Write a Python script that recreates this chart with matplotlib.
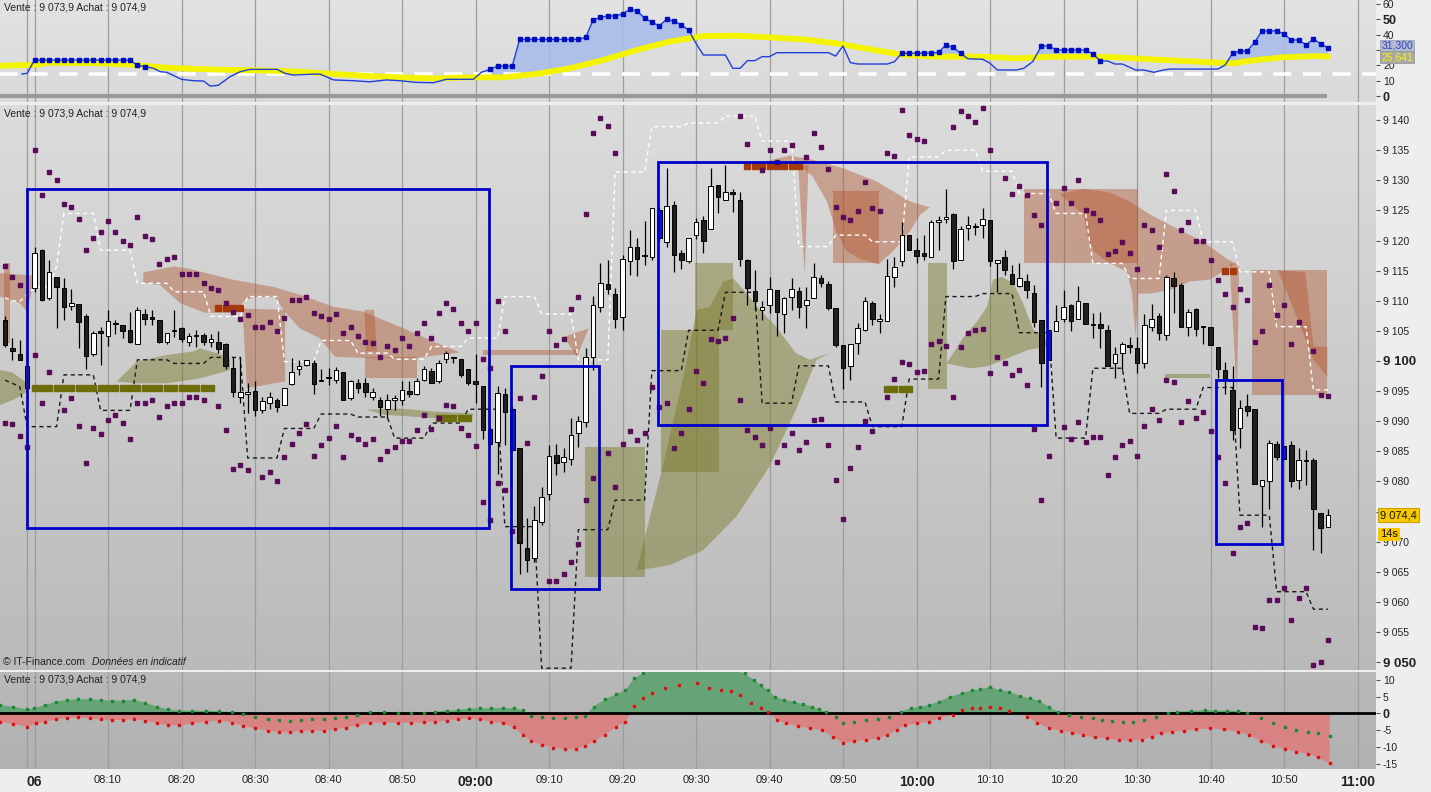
import numpy as np
import matplotlib
matplotlib.use('Agg')
import matplotlib.pyplot as plt
import matplotlib.transforms as mtransforms
from matplotlib.colors import LinearSegmentedColormap
from matplotlib.patches import Polygon, Rectangle

plt.rcParams['font.family'] = ['Liberation Sans', 'DejaVu Sans']

# ---------------- data (minute index, 0 = 08:00) ----------------
minutes = list(range(-4, 177))

opens = [9106.8, 9102.2, 9101.1, 9095.5,
         9112.2, 9118.4, 9110.4, 9113.9, 9112.2, 9109.1, 9109.4, 9107.4, 9101.1, 9105.0,
         9104.2, 9106.1, 9106.0, 9105.2, 9102.8, 9107.8, 9107.3, 9106.8, 9103.2, 9105.0,
         9105.4, 9103.1, 9104.2, 9104.3, 9103.2, 9103.2, 9102.8, 9098.8, 9094.1, 9094.5,
         9095.1, 9091.8, 9093.0, 9093.6, 9092.7, 9096.2, 9098.6, 9099.3, 9099.7, 9096.7,
         9097.1, 9096.9, 9098.2, 9093.8, 9096.3, 9096.3, 9094.1, 9093.5, 9092.0, 9093.6,
         9093.5, 9095.0, 9094.5, 9096.9, 9098.4, 9096.6, 9100.3, 9100.7, 9100.3, 9098.6,
         9096.7, 9095.8, 9088.7, 9086.5, 9094.5, 9092.0, 9085.5, 9069.0, 9067.3, 9073.2,
         9077.9, 9084.4, 9083.3, 9083.8, 9088.0, 9089.9, 9100.7, 9108.9, 9112.8, 9111.2,
         9107.3, 9116.6, 9118.9, 9117.4, 9117.3, 9125.1, 9119.8, 9125.9, 9117.9, 9116.6,
         9120.9, 9123.4, 9121.9, 9129.2, 9126.7, 9128.0, 9126.8, 9116.8, 9111.7, 9108.5,
         9109.3, 9111.8, 9107.8, 9110.7, 9111.7, 9109.3, 9110.4, 9113.7, 9112.7, 9108.8,
         9102.7, 9099.2, 9103.0, 9105.2, 9109.7, 9106.7, 9106.7, 9113.9, 9116.6, 9121.0,
         9118.4, 9117.9, 9117.3, 9123.0, 9123.5, 9124.4, 9116.7, 9122.0, 9122.2, 9122.5,
         9123.4, 9116.2, 9117.3, 9114.4, 9112.5, 9113.2, 9111.3, 9106.8, 9105.2, 9104.9,
         9106.9, 9109.3, 9106.9, 9109.7, 9105.9, 9106.2, 9105.1, 9099.6, 9101.3, 9102.6,
         9102.1, 9099.6, 9105.7, 9107.4, 9104.3, 9113.8, 9112.6, 9105.7, 9108.6, 9105.6,
         9105.6, 9102.3, 9098.5, 9095.2, 9088.8, 9092.5, 9092.0, 9079.3, 9080.1, 9086.3,
         9085.9, 9086.1, 9080.3, 9083.4, 9083.5, 9074.8, 9072.4]

highs = [9107.4, 9103.8, 9103.5, 9099.1,
         9118.9, 9118.6, 9116.8, 9113.9, 9113.7, 9111.9, 9109.4, 9107.8, 9105.0, 9105.7,
         9108.5, 9106.8, 9106.0, 9108.2, 9108.9, 9108.7, 9108.5, 9106.8, 9104.6, 9108.5,
         9105.7, 9104.7, 9105.2, 9104.6, 9104.5, 9105.0, 9103.0, 9100.7, 9100.7, 9096.3,
         9096.6, 9094.1, 9094.9, 9093.8, 9095.5, 9100.5, 9100.2, 9100.2, 9100.2, 9098.6,
         9098.8, 9099.0, 9098.2, 9096.9, 9097.0, 9097.1, 9095.5, 9094.1, 9094.5, 9094.4,
         9096.7, 9096.6, 9097.1, 9099.1, 9098.8, 9100.2, 9101.6, 9100.7, 9100.3, 9098.6,
         9101.2, 9095.8, 9089.0, 9095.8, 9095.5, 9092.5, 9085.5, 9074.0, 9076.0, 9079.0,
         9086.0, 9086.2, 9085.5, 9090.5, 9090.9, 9102.1, 9110.8, 9116.2, 9116.7, 9112.1,
         9117.6, 9121.8, 9120.5, 9123.3, 9125.4, 9125.5, 9132.0, 9126.5, 9118.5, 9120.4,
         9123.7, 9124.0, 9132.0, 9129.2, 9132.5, 9128.5, 9128.1, 9117.0, 9115.1, 9109.9,
         9113.9, 9111.8, 9110.7, 9113.7, 9112.3, 9112.3, 9116.2, 9114.3, 9113.2, 9108.8,
         9102.7, 9102.8, 9106.3, 9110.7, 9109.9, 9107.8, 9117.0, 9117.3, 9123.1, 9121.0,
         9120.4, 9120.9, 9123.4, 9124.0, 9128.5, 9124.5, 9122.4, 9124.0, 9122.9, 9125.4,
         9123.4, 9116.8, 9118.4, 9115.9, 9116.2, 9114.4, 9112.6, 9106.8, 9105.2, 9109.3,
         9111.8, 9109.5, 9112.5, 9109.7, 9107.9, 9108.2, 9106.0, 9102.4, 9103.2, 9104.0,
         9104.0, 9107.8, 9109.5, 9107.9, 9114.3, 9114.8, 9112.9, 9108.6, 9108.8, 9105.8,
         9105.6, 9102.3, 9099.9, 9099.1, 9093.5, 9094.5, 9092.0, 9080.3, 9086.9, 9086.8,
         9085.9, 9086.8, 9085.5, 9085.2, 9083.9, 9074.8, 9075.5]

lows = [9102.4, 9100.2, 9100.2, 9095.5,
        9111.5, 9110.0, 9110.2, 9105.4, 9106.8, 9108.5, 9102.1, 9098.6, 9100.8, 9099.3,
        9102.5, 9104.5, 9103.8, 9103.0, 9102.8, 9106.0, 9106.0, 9103.0, 9102.8, 9104.0,
        9103.1, 9102.5, 9102.4, 9102.7, 9102.4, 9101.3, 9098.6, 9094.1, 9093.0, 9091.3,
        9090.9, 9091.3, 9092.1, 9091.6, 9092.7, 9096.0, 9097.7, 9099.1, 9094.6, 9096.6,
        9096.0, 9096.3, 9093.6, 9093.5, 9094.7, 9094.1, 9093.5, 9090.9, 9090.5, 9091.9,
        9092.7, 9094.1, 9094.4, 9096.6, 9096.3, 9096.3, 9099.6, 9099.6, 9097.4, 9096.0,
        9093.0, 9087.0, 9086.0, 9081.3, 9086.1, 9085.0, 9064.7, 9065.0, 9066.7, 9072.8,
        9077.0, 9081.1, 9081.6, 9082.7, 9085.8, 9089.1, 9098.5, 9108.2, 9111.1, 9105.4,
        9105.1, 9114.3, 9114.1, 9115.9, 9116.8, 9120.0, 9118.9, 9114.7, 9115.2, 9116.2,
        9120.2, 9117.9, 9121.9, 9124.5, 9126.7, 9124.8, 9115.7, 9109.3, 9108.5, 9106.8,
        9107.9, 9104.2, 9104.7, 9108.4, 9107.1, 9105.4, 9110.4, 9112.3, 9108.5, 9102.3,
        9095.3, 9096.9, 9101.2, 9104.9, 9106.0, 9104.6, 9106.7, 9112.3, 9115.7, 9118.5,
        9116.2, 9116.8, 9117.3, 9118.5, 9122.9, 9115.2, 9116.7, 9120.1, 9120.9, 9120.5,
        9115.7, 9111.5, 9114.3, 9112.7, 9112.3, 9110.4, 9105.7, 9095.7, 9100.2, 9104.9,
        9106.5, 9105.0, 9106.9, 9106.1, 9103.8, 9102.1, 9099.2, 9097.1, 9098.5, 9101.3,
        9098.0, 9098.8, 9104.9, 9103.5, 9103.5, 9108.0, 9105.6, 9104.2, 9104.1, 9102.8,
        9102.7, 9097.1, 9094.5, 9086.9, 9085.5, 9090.8, 9079.5, 9072.4, 9075.4, 9083.5,
        9083.8, 9079.1, 9078.7, 9079.4, 9068.6, 9068.2, 9072.4]

closes = [9102.7, 9101.7, 9100.2, 9099.1,
          9117.9, 9110.2, 9114.7, 9112.3, 9108.9, 9109.7, 9106.4, 9100.8, 9104.6, 9104.6,
          9106.7, 9106.2, 9104.9, 9103.1, 9108.5, 9106.9, 9106.9, 9103.2, 9104.6, 9105.1,
          9103.6, 9104.2, 9104.3, 9103.1, 9103.6, 9102.0, 9099.1, 9094.9, 9094.9, 9094.9,
          9091.9, 9093.3, 9094.0, 9092.4, 9095.5, 9098.2, 9099.1, 9100.1, 9096.2, 9096.8,
          9097.2, 9098.5, 9093.6, 9096.6, 9095.5, 9094.9, 9094.9, 9092.3, 9093.5, 9093.7,
          9095.2, 9094.5, 9096.7, 9098.6, 9096.4, 9099.7, 9101.3, 9100.5, 9097.7, 9096.3,
          9096.2, 9088.5, 9086.2, 9094.7, 9091.6, 9085.2, 9069.8, 9067.0, 9073.6, 9077.5,
          9084.2, 9083.0, 9084.1, 9087.7, 9090.1, 9100.6, 9109.3, 9112.9, 9111.9, 9106.9,
          9117.0, 9119.0, 9117.0, 9117.5, 9125.4, 9120.5, 9125.7, 9117.6, 9116.7, 9120.4,
          9123.0, 9120.0, 9129.0, 9127.2, 9128.1, 9127.7, 9117.0, 9112.2, 9109.9, 9108.9,
          9111.9, 9108.2, 9110.4, 9111.9, 9108.9, 9110.2, 9113.9, 9112.9, 9108.8, 9102.7,
          9098.8, 9102.8, 9105.4, 9109.9, 9106.9, 9106.9, 9114.1, 9115.6, 9120.9, 9118.5,
          9117.5, 9117.5, 9123.0, 9123.4, 9123.9, 9116.6, 9121.9, 9122.5, 9122.3, 9123.5,
          9116.6, 9116.8, 9115.1, 9112.7, 9113.7, 9111.8, 9106.4, 9099.7, 9100.2, 9106.7,
          9108.9, 9106.7, 9109.9, 9106.1, 9106.1, 9105.4, 9099.2, 9101.2, 9102.8, 9102.3,
          9099.7, 9106.0, 9106.9, 9104.6, 9113.9, 9112.5, 9105.7, 9108.2, 9105.3, 9105.8,
          9102.7, 9098.6, 9096.9, 9088.6, 9092.2, 9091.7, 9079.5, 9080.3, 9086.4, 9084.0,
          9083.8, 9080.0, 9083.6, 9083.5, 9075.4, 9072.2, 9074.4]

blue_bars = [62, 65, 85, 138, 170]

N = None
upper_dots = [9115.7, 9113.9, 9112.6, N,
              9135.0, 9127.6, 9131.4, 9130.1, 9126.1, 9125.5, 9123.5, 9118.5, 9120.5, 9121.4,
              9123.3, 9121.4, 9120.0, 9119.3, 9123.9, 9120.8, 9120.2, 9116.1, 9116.9, 9117.3,
              9114.4, 9114.4, 9114.4, 9112.9, 9112.2, 9111.8, 9109.7, 9108.2, 9107.0, 9107.6,
              9105.6, 9105.6, 9106.4, 9104.9, 9107.1, 9110.2, 9110.1, 9110.6, 9107.9, 9107.5,
              9106.9, 9107.8, 9104.6, 9105.6, 9104.2, 9103.2, 9103.0, 9100.7, 9102.5, 9101.8,
              9103.8, 9102.5, 9104.6, 9106.3, 9103.8, 9108.0, 9109.6, 9108.7, 9106.3, 9104.9,
              9106.3, 9100.4, 9098.8, 9109.9, 9104.9, N, 9093.8, 9086.4, 9094.0, 9097.5,
              9104.9, 9102.7, 9103.6, 9108.6, 9110.6, 9124.4, 9137.8, 9140.3, 9139.0, 9134.6,
              N, N, N, N, N, N, N, N, N, N,
              N, N, N, N, N, N, 9140.6, 9136.0, N, 9131.7,
              9135.0, 9133.1, 9135.0, 9135.9, N, 9133.8, 9137.8, 9135.5, 9131.8, 9125.5,
              9123.9, 9123.4, 9124.9, 9129.7, 9125.4, 9124.9, 9134.6, 9134.0, 9141.6, 9137.6,
              9136.8, 9136.6, N, N, N, 9138.8, 9141.5, 9140.7, 9139.6, 9142.0,
              9135.0, N, 9130.3, 9127.8, 9129.1, 9127.6, 9124.3, 9122.6, N, 9126.3,
              9128.8, 9126.3, 9130.0, 9125.0, 9124.5, 9123.4, 9117.8, 9118.3, 9119.8, 9117.9,
              9115.2, 9122.6, 9121.8, 9118.9, 9131.0, 9128.2, 9121.7, 9123.0, 9120.0, 9119.9,
              9116.8, 9113.5, 9111.1, 9109.0, 9111.9, 9110.1, 9103.1, 9104.9, 9112.6, 9107.6,
              9109.3, 9102.9, 9106.5, N, 9101.6, 9094.4, 9094.2]

lower_dots = [9089.7, 9089.5, 9087.5, 9085.8,
              9101.0, 9093.0, 9098.2, N, 9091.9, 9093.8, 9089.2, 9083.0, 9088.8, 9087.9,
              9090.2, 9091.0, 9089.7, 9087.0, 9093.0, 9093.1, 9093.6, 9090.7, 9092.5, 9093.0,
              9093.0, 9094.0, 9094.0, 9093.5, N, 9092.5, 9088.6, 9082.0, 9082.7, 9081.9,
              N, 9080.8, 9081.6, 9080.0, 9084.0, 9086.3, 9088.0, 9089.5, 9084.2, 9086.1,
              9087.2, 9089.2, 9084.0, 9087.7, 9087.0, 9086.2, 9087.0, 9083.7, 9085.0, 9085.7,
              9086.8, 9086.8, 9088.6, 9091.0, 9088.7, 9090.5, 9092.7, 9092.5, 9088.8, 9087.7,
              9085.9, 9076.6, 9073.6, 9079.7, 9078.6, 9071.7, N, N, N, N,
              9063.4, 9063.5, 9064.6, 9066.7, 9069.6, 9076.9, 9080.5, N, 9084.8, 9079.0,
              9086.3, 9088.4, 9086.9, 9088.0, 9095.7, 9092.3, 9093.1, 9085.5, 9088.0, 9092.1,
              9098.3, 9096.3, 9103.6, 9103.4, 9103.8, 9107.1, 9093.5, 9088.5, 9087.3, 9086.1,
              9088.8, 9083.3, 9086.0, 9088.0, 9085.2, 9086.6, 9090.2, 9090.3, 9086.0, 9080.2,
              9073.7, 9082.3, 9085.8, 9090.1, 9088.3, N, 9094.0, 9097.0, 9099.9, 9099.5,
              9098.1, 9098.3, 9102.9, 9103.4, 9102.5, 9094.1, 9102.3, 9104.6, 9105.2, 9105.3,
              9098.0, 9100.7, 9099.6, 9097.6, 9098.5, 9096.0, 9088.7, 9077.0, 9084.2, N,
              9089.0, 9087.0, 9089.9, 9086.6, 9087.3, 9087.3, 9081.0, 9084.0, 9086.0, 9086.7,
              9084.3, 9089.2, 9092.1, 9090.2, 9096.9, 9096.5, 9089.8, 9093.4, 9090.5, 9091.6,
              9088.3, 9084.0, 9079.8, 9068.1, 9072.4, 9073.1, 9055.8, 9055.6, 9060.4, 9060.4,
              9062.3, 9057.0, 9060.6, 9062.3, 9049.5, 9050.1, 9053.7]

# stepped channel lines: (first minute, level) per step
white_steps = [(-4, 9110.5), (-3, 9110.0), (-2, 9109.9), (-1, 9111.0), (0, 9112.3), (3, 9115.7),
               (4, 9124.5), (9, 9118.4), (14, 9112.9), (19, 9111.5), (24, 9107.4), (29, 9110.7),
               (34, 9099.9), (39, 9103.4), (44, 9101.3), (49, 9100.3), (54, 9102.4), (59, 9103.8),
               (64, 9110.7), (69, 9107.8), (74, 9100.2), (79, 9131.4), (84, 9138.9), (89, 9139.5),
               (94, 9140.7), (99, 9136.5), (104, 9119.0), (109, 9120.9), (114, 9119.8), (119, 9133.9),
               (124, 9135.0), (129, 9131.5), (134, 9127.8), (139, 9124.5), (144, 9116.2), (149, 9113.7),
               (154, 9125.0), (159, 9119.8), (164, 9114.8), (169, 9105.7), (174, 9095.2)]
black_steps = [(-4, 9096.8), (-3, 9096.3), (-2, 9095.7), (-1, 9089.1), (4, 9097.7), (9, 9091.8),
               (14, 9100.2), (19, 9099.6), (24, 9100.6), (29, 9083.9), (34, 9088.8), (39, 9091.2),
               (44, 9090.7), (49, 9087.2), (54, 9089.7), (59, 9092.0), (64, 9072.5), (69, 9049.0),
               (74, 9072.0), (79, 9076.9), (84, 9098.4), (89, 9105.1), (94, 9111.4), (99, 9093.0),
               (104, 9099.2), (109, 9093.2), (114, 9089.1), (119, 9097.0), (124, 9110.7), (129, 9111.2),
               (134, 9104.7), (139, 9087.2), (144, 9098.8), (149, 9091.3), (154, 9092.0), (159, 9095.6),
               (164, 9074.4), (169, 9061.7), (174, 9058.8)]

# shaded zones (minute, price) outlines
brown_zones = [
    [(-4.7, 9114.6), (-0.3, 9114.2), (-0.3, 9112.0), (-1.0, 9108.2), (-2.0, 9109.6), (-4.7, 9110.7)],
    [(-4.2, 9116.2), (-3.3, 9116.2), (-3.3, 9103.0), (-4.2, 9103.0)],
    [(14.8, 9114.7), (18.9, 9115.7), (20.7, 9115.4), (27.0, 9113.5), (32.5, 9112.3), (36.1, 9111.0),
     (40.7, 9109.0), (44.7, 9108.2), (49.7, 9105.7), (54.3, 9103.2), (57.9, 9101.4),
     (51.8, 9100.5), (45.2, 9100.5), (40.9, 9100.7), (38.8, 9103.8), (36.1, 9105.4), (34.1, 9108.1),
     (32.7, 9110.6), (30.0, 9110.6), (28.6, 9110.1), (27.3, 9108.0), (23.2, 9108.0), (19.8, 9109.6),
     (17.1, 9112.6), (14.8, 9113.0)],
    [(28.3, 9108.7), (34.1, 9108.5), (34.1, 9096.6), (28.9, 9095.5)],
    [(44.9, 9108.5), (46.2, 9108.5), (46.6, 9101.6), (45.1, 9101.6)],
    [(44.9, 9100.7), (52.0, 9100.7), (52.0, 9097.1), (44.9, 9097.1)],
    [(61.0, 9101.8), (74.0, 9101.8), (74.0, 9101.0), (61.0, 9101.0)],
    [(72.0, 9104.0), (75.4, 9105.4), (73.8, 9100.7)],
    [(99.6, 9133.2), (102.8, 9134.1), (105.9, 9133.4), (110.0, 9132.0), (114.6, 9129.8),
     (119.1, 9126.5), (121.8, 9125.5), (120.5, 9124.3), (119.1, 9121.5), (116.8, 9118.2),
     (114.8, 9116.0), (112.3, 9117.0), (110.5, 9118.2), (109.1, 9121.5), (107.8, 9126.5),
     (105.9, 9130.6), (104.1, 9132.5)],
    [(103.9, 9132.5), (105.3, 9132.5), (104.8, 9114.3)],
    [(108.7, 9128.2), (114.9, 9128.2), (114.9, 9116.2), (108.7, 9116.2)],
    [(134.6, 9128.5), (150.2, 9128.5), (150.2, 9116.2), (134.6, 9116.2)],
    [(139.5, 9127.7), (142.7, 9128.6), (146.3, 9128.0), (149.0, 9126.5), (151.8, 9124.3),
     (155.4, 9122.0), (159.0, 9119.8), (162.2, 9117.0), (163.4, 9116.2), (159.9, 9113.5),
     (157.2, 9113.2), (154.5, 9111.8), (151.8, 9111.2), (150.2, 9111.2), (149.8, 9104.0),
     (149.3, 9111.5), (148.6, 9114.8), (145.9, 9116.5), (144.1, 9118.2), (143.2, 9120.9),
     (142.7, 9124.3)],
    [(162.6, 9116.2), (163.9, 9116.2), (163.6, 9094.1)],
    [(165.6, 9115.1), (175.9, 9115.1), (175.9, 9094.4), (165.6, 9094.4)],
    [(169.2, 9115.0), (172.9, 9114.8), (174.0, 9102.4), (175.9, 9102.4), (175.9, 9097.4),
     (174.0, 9100.2), (171.7, 9107.4)],
]
olive_zones = [
    [(-4.7, 9098.5), (-3.0, 9098.1), (-1.2, 9096.5), (-0.5, 9095.5), (-1.5, 9094.5),
     (-3.0, 9093.5), (-4.7, 9092.7)],
    [(11.2, 9096.6), (13.9, 9099.9), (18.0, 9101.0), (21.6, 9101.6), (22.5, 9102.1),
     (24.8, 9101.3), (26.6, 9100.5), (26.6, 9098.5), (22.5, 9097.1), (18.0, 9096.3), (13.9, 9096.3)],
    [(45.2, 9091.9), (49.7, 9092.1), (54.3, 9091.6), (59.7, 9091.3), (59.7, 9091.0),
     (54.3, 9090.5), (47.5, 9091.1)],
    [(74.9, 9085.8), (83.0, 9085.8), (83.0, 9064.2), (74.9, 9064.2)],
    [(81.9, 9065.2), (85.3, 9081.6), (88.3, 9097.4), (90.1, 9108.5), (91.9, 9109.0),
     (93.7, 9113.2), (95.1, 9113.7), (96.9, 9111.2), (98.7, 9108.5), (100.9, 9105.7),
     (103.6, 9101.3), (105.5, 9100.2), (108.2, 9101.3), (106.4, 9100.2), (103.6, 9091.9),
     (100.0, 9082.5), (95.5, 9074.2), (91.0, 9068.6), (86.4, 9066.1)],
    [(85.3, 9105.1), (93.1, 9105.1), (93.1, 9081.6), (85.3, 9081.6)],
    [(89.9, 9116.2), (95.1, 9116.2), (95.1, 9105.1), (89.9, 9105.1)],
    [(121.6, 9116.2), (124.1, 9116.2), (124.1, 9095.3), (121.6, 9095.3)],
    [(124.1, 9099.6), (126.4, 9104.0), (128.2, 9106.5), (129.6, 9109.0), (130.4, 9113.5),
     (131.6, 9114.0), (133.2, 9112.9), (134.5, 9109.6), (135.9, 9105.2), (137.7, 9103.5),
     (137.7, 9102.4), (135.1, 9101.8), (132.3, 9100.4), (129.6, 9099.1), (127.3, 9098.8)],
    [(153.8, 9097.8), (159.9, 9097.8), (159.9, 9097.1), (153.8, 9097.1)],
]

# square-dot levels: (first minute, last minute, price)
olive_marks = [(0, 24, 9095.5), (55, 59, 9090.5), (116, 119, 9095.3)]
rust_marks = [(25, 28, 9108.8), (97, 104, 9132.4), (162, 163, 9115.0)]

# highlighted boxes: (start minute, end minute, low price, high price)
boxes = [(-1.0, 61.8, 9072.3, 9128.6), (64.8, 76.8, 9062.1, 9099.2),
         (84.8, 137.8, 9089.3, 9133.1), (160.7, 169.7, 9069.6, 9096.9)]

# upper indicator
top_blue_t = [-1.7, -1.0, 0, 1, 2, 3, 4, 5, 6, 7, 8, 9, 10, 11, 12, 13, 14, 15, 16.2, 17.1, 18,
              20, 21.6, 23, 23.9, 25, 26.6, 28, 29.3, 33, 34.1, 35.2, 38.8, 40.7, 43.4, 45.6,
              47.9, 49.7, 52, 54.3, 56, 59.7, 60.8, 62, 63, 64, 65, 66, 67, 68, 69, 70, 71,
              72, 73, 74, 75, 76, 77, 78, 79, 80, 81, 82, 83, 84, 85, 86, 87, 88, 89, 90, 91,
              94, 95, 96, 97, 98, 99, 100, 101, 108, 109, 110, 111, 112, 116, 117, 118, 119, 120,
              121, 122, 123, 124, 125, 126, 127, 129, 130, 131, 133.6, 134.6, 135.8, 137, 138,
              139, 140, 141, 142, 143, 144, 145, 146, 147, 148, 149.8, 150.9, 152.3, 153.6,
              154.5, 161, 162, 163, 164, 165, 166, 167, 168, 169, 170, 171, 172, 173, 174, 175, 176]
top_blue_v = [14.4, 14.8, 23.5, 23.5, 23.5, 23.5, 23.5, 23.5, 23.5, 23.5, 23.5, 23.5, 23.5, 23.5,
              23.5, 23.5, 20.0, 19.2, 18.1, 15.9, 15.5,
              10.9, 10.0, 9.8, 6.5, 7.0, 12.6, 15.9, 17.4, 17.4, 14.8, 13.7, 14.4, 10.5, 10.0, 9.3,
              10.5, 10.0, 8.9, 8.7, 10.9, 10.9, 15.5, 17.4, 19.6, 19.6, 19.6, 37.0, 37.0, 37.0,
              37.0, 37.0, 37.0, 37.0, 37.0, 37.0, 38.3, 49.7, 51.4, 52.3, 52.3, 53.6, 56.6, 55.6,
              50.8, 48.2, 45.8, 50.1, 49.0, 46.4, 43.1, 34.4, 26.8,
              26.8, 18.1, 18.1, 23.1, 23.1, 25.7, 25.7, 28.3, 28.3, 26.1, 32.7, 21.8, 20.9, 20.9,
              22.4, 27.9, 27.9, 27.9, 27.9, 27.9, 28.6, 33.3, 31.8, 27.9, 24.3, 24.0, 21.4, 17.0,
              17.0, 18.1, 22.4, 32.7, 32.7,
              30.1, 30.1, 30.1, 30.1, 30.1, 27.5, 22.9, 22.9, 20.9, 20.9, 17.0, 17.0, 15.5, 17.0,
              17.6, 17.6, 20.3, 27.9, 29.4, 29.4, 35.1, 42.5, 42.5, 42.5, 40.5, 36.6, 36.6, 33.3,
              37.3, 34.0, 31.3]
# minutes where the blue line carries square markers
top_marked = (list(range(0, 16)) + list(range(62, 90)) + list(range(118, 127))
              + list(range(137, 146)) + list(range(163, 177)))
top_avg_t = [-4.7, 0, 2.1, 8.9, 13.4, 18, 22.5, 27, 31.6, 36.1, 40.7, 45.2, 49.7, 54.3, 58.8,
             63.8, 68.3, 72.8, 77.4, 81.9, 86.4, 91, 95.5, 100, 104.6, 109.1, 113.7, 118.2,
             122.7, 129.1, 133.6, 138.2, 142.7, 147.3, 151.8, 156.3, 160.9, 163.2, 165.4,
             169.9, 174.4, 176]
top_avg_v = [19.8, 20.3, 21.8, 21.4, 20.3, 18.5, 17.6, 17.0, 16.6, 15.9, 14.4, 13.1, 12.2, 11.5,
             12.2, 12.2, 14.4, 18.1, 23.5, 30.0, 35.5, 39.2, 39.4, 38.3, 37.0, 34.4, 30.5, 26.8,
             25.7, 25.7, 24.6, 25.7, 25.7, 25.3, 24.0, 22.9, 21.8, 21.4, 23.1, 25.3, 26.1, 25.8]

# lower oscillator
osc_fast_t = [-4.7, -2.9, -1.05, -0.13, 1.4, 2.9, 4.4, 5.9, 7.5, 9, 10.5, 12, 13.5, 15.1, 16.6,
              18.1, 19.6, 21.4, 23.3, 25.1, 26.9, 28.4, 30, 31.8, 33.3, 34.8, 36.3, 37.8, 39.4,
              40.9, 42.4, 43.9, 45.7, 47.6, 49.4, 51.2, 53, 54.5, 56.1, 57.6, 59.1, 60.6, 62.1,
              63.7, 65.2, 66.4, 67.6, 69.1, 70.6, 72.2, 73.7, 74.9, 76.1, 77.6, 79.1, 80.4, 81.6,
              82.8, 85, 90, 94, 96.6, 97.9, 98.8, 99.8, 100.7, 102, 103.3, 104.5, 105.8, 106.8,
              107.7, 109, 110, 111.5, 113.1, 114.7, 116.3, 117.9, 119.2, 120.5, 121.7, 123,
              124.6, 126.2, 127.5, 128.7, 130, 131.3, 132.6, 134.1, 135.4, 136.7, 138, 139.2,
              140.8, 142.4, 144, 145.3, 146.6, 148.1, 149.4, 151, 152.6, 154.2, 155.5, 157.4,
              159.3, 160.6, 162.2, 163.7, 165, 166.9, 168.5, 170.1, 171.7, 173.3, 174.6, 176.2]
osc_fast_v = [2.47, 1.98, 1.18, 1.48, 2.47, 3.47, 3.97, 4.17, 4.17, 3.97, 3.77, 3.77, 3.97, 3.17,
              1.98, 1.18, 0.78, 0.78, 0.78, 0.58, 0.38, -0.2, -1.2, -1.8, -2.0, -2.2, -2.0, -1.8,
              -1.6, -1.4, -1.0, -0.5, 0.28, 0.38, 0.18, 0.18, 0.18, 0.48, 0.78, 0.98, 1.38, 1.48,
              1.48, 1.58, 1.48, 0.98, -0.8, -1.2, -1.5, -1.5, -1.2, -0.8, 2.0, 4.17, 5.64, 6.93,
              10.4, 11.9, 13.5, 14.5, 13.5, 11.9, 9.9, 8.4, 6.9, 4.96, 3.97, 3.47, 2.78, 1.98,
              1.18, 0.48, -1.0, -2.8, -2.5, -2.0, -1.8, -1.0, 0.48, 1.48, 1.98, 2.47, 3.47, 4.96,
              5.95, 6.93, 7.13, 7.92, 6.93, 6.43, 5.15, 4.46, 3.67, 1.98, 0.48, -0.5, -1.0, -1.5,
              -2.0, -2.3, -2.5, -2.5, -2.0, -1.0, 0.0, 0.48, 0.68, 0.98, 0.78, 0.78, 0.68, 0.18,
              -1.5, -3.0, -4.2, -5.0, -5.5, -6.0, -6.8]
osc_slow_t = [-4.7, -2.9, -1.05, 0.2, 1.4, 2.9, 4.4, 5.9, 7.5, 9, 10.5, 12, 13.5, 15.1, 16.6, 18.1,
              19.6, 21.4, 23.3, 25.1, 26.9, 28.4, 30, 31.8, 33.3, 34.8, 36.3, 37.8, 39.4, 40.9,
              42.4, 43.9, 45.7, 47.6, 49.4, 51.2, 53, 54.5, 56.1, 57.6, 59.1, 60.6, 62.1, 63.7,
              65.2, 66.4, 67.6, 69.1, 70.6, 72.2, 73.7, 74.9, 76.1, 77.6, 79.1, 80.4, 81.6, 82.8,
              84, 85.8, 87.7, 90.1, 91.8, 93.4, 94.7, 96, 97.5, 98.8, 99.8, 101, 102.3, 103.9,
              105.5, 107.1, 108.7, 110, 111.5, 113.1, 114.7, 116, 117.3, 118.5, 120.1, 121.7,
              123, 124.9, 126.2, 127.5, 128.7, 130, 131.3, 132.6, 135.1, 136.4, 138, 139.6,
              141.1, 142.7, 144.3, 145.9, 147.5, 149.1, 150.7, 152, 153.2, 154.8, 156.4, 158,
              159.9, 161.8, 163.7, 165.3, 166.9, 168.5, 170.1, 171.7, 173.3, 174.6, 176.2]
osc_slow_v = [-2.5, -3.2, -4.0, -3.0, -2.5, -1.8, -1.4, -1.2, -1.5, -1.8, -2.0, -2.0, -1.8, -2.2,
              -3.0, -3.4, -3.6, -3.0, -2.5, -2.2, -2.8, -3.8, -4.5, -5.2, -5.6, -5.6, -5.3, -5.2,
              -5.2, -4.8, -4.3, -3.5, -2.8, -2.8, -2.8, -2.8, -2.7, -2.5, -2.2, -1.8, -1.5, -1.8,
              -2.5, -3.0, -4.2, -6.5, -8.2, -9.5, -10.2, -10.6, -10.6, -9.7, -8.4, -6.5, -4.0,
              -2.5, 2.2, 4.5, 6.0, 7.4, 8.4, 8.9, 7.4, 6.9, 6.7, 5.45, 2.97, 1.48, 0.48, -2.0,
              -3.0, -3.8, -4.5, -5.0, -6.95, -8.9, -8.4, -7.9, -7.5, -6.5, -5.0, -3.5, -3.0, -2.5,
              -1.5, -0.5, 0.98, 1.48, 1.67, 1.98, 1.48, 0.78, -1.0, -2.8, -4.5, -5.2, -5.8, -6.5,
              -7.2, -7.5, -7.9, -8.1, -7.9, -6.95, -6.0, -5.5, -5.2, -4.8, -4.5, -4.8, -5.5,
              -6.5, -8.4, -9.7, -10.7, -11.4, -12.2, -13.1, -14.9]

time_labels = ['06', '08:10', '08:20', '08:30', '08:40', '08:50', '09:00', '09:10', '09:20',
               '09:30', '09:40', '09:50', '10:00', '10:10', '10:20', '10:30', '10:40', '10:50', '11:00']
header = 'Vente : 9 073,9 Achat : 9 074,9'

# ---------------- figure layout (pixel based) ----------------
W, H = 1431, 792
fig = plt.figure(figsize=(W / 100, H / 100), dpi=100, facecolor='#eeeeee')
PLOT_R = 1376


def panel(top, bottom):
    return fig.add_axes([0, 1 - bottom / H, PLOT_R / W, (bottom - top) / H])


ax_top = panel(0, 102)
ax_main = panel(105, 670)
ax_bot = panel(672, 769)

x_lo = -34.5 / 7.35
x_hi = (PLOT_R - 34.5) / 7.35


def shade(ax, c_top, c_bot):
    cmap = LinearSegmentedColormap.from_list('bg', [c_bot, c_top])
    ax.imshow(np.linspace(0, 1, 256).reshape(-1, 1), cmap=cmap, aspect='auto',
              extent=[0, 1, 0, 1], transform=ax.transAxes, origin='lower', zorder=-10)


shade(ax_top, '#e3e3e3', '#d9d9d9')
shade(ax_main, '#dcdcdc', '#bababa')
shade(ax_bot, '#b9b9b9', '#b1b1b1')

for ax in (ax_top, ax_main, ax_bot):
    for g in range(0, 181, 10):
        ax.axvline(g, color='#9d9d9d', lw=0.9, zorder=1)
    ax.axvline(-0.98, color='#9d9d9d', lw=0.9, zorder=1)
    for s in ax.spines.values():
        s.set_visible(False)
    ax.yaxis.tick_right()
    ax.tick_params(axis='y', length=3, width=0.8, color='#555555', pad=2, labelsize=7.5,
                   labelcolor='#222222')
    ax.set_xticks([])

# ---------------- upper indicator ----------------
bt = np.array(top_blue_t)
bv = np.array(top_blue_v)
avg_at_b = np.interp(bt, top_avg_t, top_avg_v)
ax_top.fill_between(bt, bv, avg_at_b, where=bv > avg_at_b, interpolate=True,
                    color='#a9bde9', alpha=0.9, lw=0, zorder=2)
ax_top.axhline(14.3, color='white', lw=2.6, dashes=(5, 3.2), zorder=2.5)
ax_top.plot([x_lo, 175.8], [-0.2, -0.2], color='#999999', lw=3, solid_capstyle='butt', zorder=2.5)
ax_top.plot(top_avg_t, top_avg_v, color='#f4f400', lw=4.2, solid_capstyle='round', zorder=3)
ax_top.plot(bt, bv, color='#2040d8', lw=1.0, zorder=4)
on = np.array([(abs(x - round(x)) < 0.01) and (int(round(x)) in top_marked) for x in bt])
ax_top.plot(bt[on], bv[on], 's', ms=2.6, color='#0010c0', zorder=5)
ax_top.set_xlim(x_lo, x_hi)
ax_top.set_ylim(-3.9, 62.7)
ax_top.set_yticks([0, 10, 20, 30, 40, 50, 60])
# the "30" label sits under the value boxes in the original
ax_top.set_yticklabels(['0', '10', '20', '', '40', '50', '60'])
for lab in ax_top.get_yticklabels():
    if lab.get_text() in ('0', '50'):
        lab.set_fontweight('bold')
        lab.set_fontsize(9)
tr_top = mtransforms.blended_transform_factory(ax_top.transAxes, ax_top.transData)
ax_top.text(1.004, 32.9, '31,300', transform=tr_top, va='center', ha='left', fontsize=7.5,
            color='#3040c8', clip_on=False, zorder=10,
            bbox=dict(boxstyle='square,pad=0.1', fc='#b3bccf', ec='#9aa2b5', lw=0.6))
ax_top.text(1.004, 25.3, '25,641', transform=tr_top, va='center', ha='left', fontsize=7.5,
            color='#f4f400', clip_on=False, zorder=11,
            bbox=dict(boxstyle='square,pad=0.1', fc='#a9a9a9', ec='#999999', lw=0.6))

# ---------------- main price panel ----------------
for poly in brown_zones:
    ax_main.add_patch(Polygon(poly, closed=True, fc='#b3542c', ec='none', alpha=0.42, zorder=2))
for poly in olive_zones:
    ax_main.add_patch(Polygon(poly, closed=True, fc='#7b7b2c', ec='none', alpha=0.48, zorder=2))


def step_line(steps):
    xs, ys = [], []
    for i, (start, level) in enumerate(steps):
        end = steps[i + 1][0] - 1 if i + 1 < len(steps) else minutes[-1]
        for m in range(start, end + 1):
            xs.append(m)
            ys.append(level)
    return xs, ys


wx, wy = step_line(white_steps)
ax_main.plot(wx, wy, color='white', lw=1.0, dashes=(3, 2.5), zorder=3)
kx, ky = step_line(black_steps)
ax_main.plot(kx, ky, color='#1a1a1a', lw=1.0, dashes=(3, 2.5), zorder=3)

for a, b, lvl in olive_marks:
    mm = np.arange(a, b + 1)
    ax_main.plot(mm, np.full(len(mm), lvl), 's', ms=4, color='#6d6d0c', zorder=4)
for a, b, lvl in rust_marks:
    mm = np.arange(a, b + 1)
    ax_main.plot(mm, np.full(len(mm), lvl), 's', ms=4, color='#a6390a', zorder=4)

mt = np.array(minutes)
up_d = np.array([np.nan if v is None else v for v in upper_dots])
lo_d = np.array([np.nan if v is None else v for v in lower_dots])
ax_main.plot(mt, up_d, 's', ms=2.4, color='#5a0c5a', zorder=4, ls='none')
ax_main.plot(mt, lo_d, 's', ms=2.4, color='#5a0c5a', zorder=4, ls='none')

o = np.array(opens)
h = np.array(highs)
l = np.array(lows)
c = np.array(closes)
ax_main.vlines(mt, l, h, color='black', lw=0.9, zorder=5)
body_lo = np.minimum(o, c)
body_h = np.maximum(np.abs(c - o), 0.18)
face = ['white' if cc >= oo else '#1f1f1f' for oo, cc in zip(o, c)]
for i, m in enumerate(minutes):
    if m in blue_bars:
        face[i] = '#0c18c8'
ax_main.bar(mt, body_h, bottom=body_lo, width=0.62, color=face, edgecolor='black',
            linewidth=0.7, zorder=6)

for t0, t1, p0, p1 in boxes:
    ax_main.add_patch(Rectangle((t0, p0), t1 - t0, p1 - p0, fill=False, ec='#0000cc',
                                lw=2.0, zorder=7))

ax_main.set_xlim(x_lo, x_hi)
ax_main.set_ylim(9048.7, 9142.5)
price_ticks = list(range(9050, 9141, 5))
ax_main.set_yticks(price_ticks)
# 9 075 is covered by the last-price tag in the original
ax_main.set_yticklabels(['' if p == 9075 else '%d %03d' % (p // 1000, p % 1000)
                         for p in price_ticks])
for lab in ax_main.get_yticklabels():
    if lab.get_text() in ('9 100', '9 050'):
        lab.set_fontweight('bold')
        lab.set_fontsize(9.5)
tr_main = mtransforms.blended_transform_factory(ax_main.transAxes, ax_main.transData)
ax_main.text(1.003, 9074.4, '9 074,4', transform=tr_main, va='center', ha='left', fontsize=8,
             color='#111111', clip_on=False, zorder=10,
             bbox=dict(boxstyle='square,pad=0.18', fc='#f7c800', ec='#c9a200', lw=0.8))
ax_main.text(1.003, 9071.2, '14s', transform=tr_main, va='center', ha='left', fontsize=8,
             color='#111111', clip_on=False, zorder=10,
             bbox=dict(boxstyle='square,pad=0.15', fc='#f7c800', ec='none'))

# ---------------- lower oscillator ----------------
ft = np.array(osc_fast_t)
fv = np.array(osc_fast_v)
st = np.array(osc_slow_t)
sv = np.array(osc_slow_v)
ax_bot.fill_between(ft, 0, fv, where=fv > 0, interpolate=True, color='#66a478', lw=0, zorder=2)
ax_bot.fill_between(st, 0, sv, where=sv < 0, interpolate=True, color='#d88383', lw=0, zorder=2)
ax_bot.axhline(0, color='black', lw=2, zorder=3)
ax_bot.plot(ft, fv, 's', ms=2, color='#1c8a35', zorder=4)
ax_bot.plot(st, sv, 's', ms=2, color='#e01010', zorder=4)
ax_bot.set_xlim(x_lo, x_hi)
ax_bot.set_ylim(-16.6, 12.3)
ax_bot.set_yticks([-15, -10, -5, 0, 5, 10])
ax_bot.set_yticklabels(['-15', '-10', '-5', '0', '5', '10'])
for lab in ax_bot.get_yticklabels():
    if lab.get_text() == '0':
        lab.set_fontweight('bold')
        lab.set_fontsize(9)

ax_bot.set_xticks(range(0, 181, 10))
ax_bot.set_xticklabels(time_labels)
ax_bot.tick_params(axis='x', length=0, pad=4, labelsize=8, labelcolor='#222222')
for lab in ax_bot.get_xticklabels():
    if lab.get_text() in ('06', '09:00', '10:00', '11:00'):
        lab.set_fontweight('bold')
        lab.set_fontsize(10)

# ---------------- captions ----------------
for ypx in (7, 113, 680):
    fig.text(4 / W, 1 - ypx / H, header, fontsize=7.5, color='#222222', va='center', ha='left')
fig.text(3 / W, 1 - 662 / H, '\u00a9 IT-Finance.com', fontsize=7.5, color='#222222',
         va='center', ha='left')
fig.text(92 / W, 1 - 662 / H, 'Donn\u00e9es en indicatif', fontsize=7.5, color='#222222',
         style='italic', va='center', ha='left')

fig.savefig('out.png', dpi=100, facecolor=fig.get_facecolor())
